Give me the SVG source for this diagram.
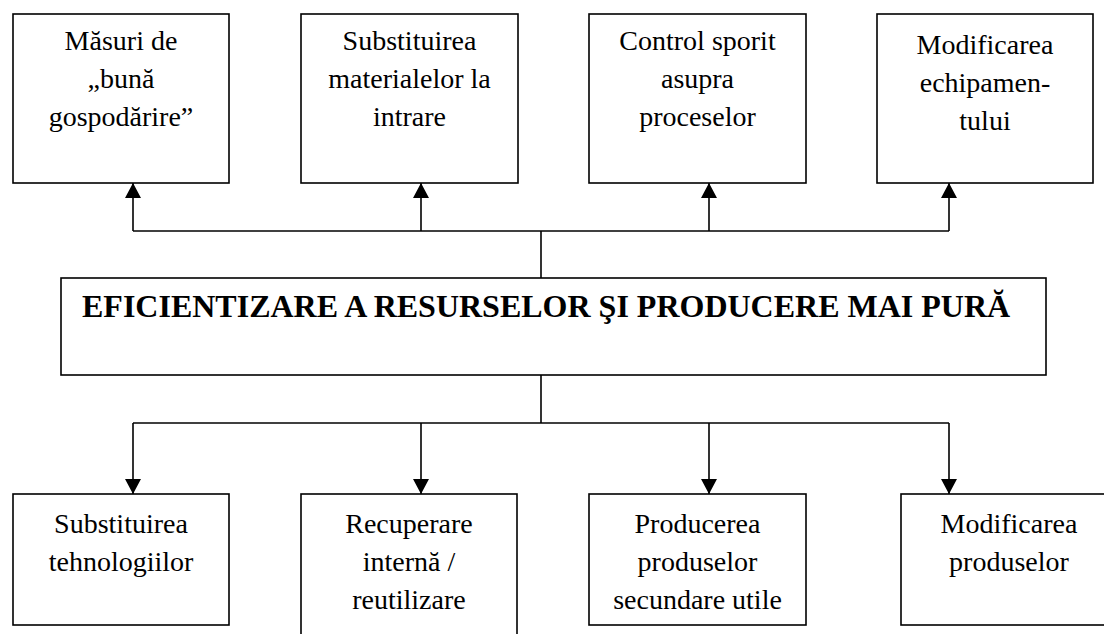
<svg xmlns="http://www.w3.org/2000/svg" width="1104" height="634" viewBox="0 0 1104 634">
  <style>
    .box { fill: #ffffff; stroke: #000000; stroke-width: 1.6; }
    .lbl { font-family: 'Liberation Serif', 'DejaVu Serif', serif; font-size: 28px; fill: #000000; text-anchor: middle; }
    .title { font-family: 'Liberation Serif', 'DejaVu Serif', serif; font-size: 32px; font-weight: bold; fill: #000000; }
    .conn { fill: none; stroke: #000000; stroke-width: 1.6; }
  </style>
  <defs>
    <marker id="ah" viewBox="0 0 15 16" refX="15" refY="8" markerWidth="15" markerHeight="16" markerUnits="userSpaceOnUse" orient="auto">
      <path d="M0,0 L15,8 L0,16 Z" fill="#000000"/>
    </marker>
  </defs>
  <rect x="0" y="0" width="1104" height="634" fill="#ffffff"/>

  <g id="connectors">
    <polyline class="conn" points="133,231 949,231"/>
    <line class="conn" x1="541" y1="278" x2="541" y2="231"/>
    <line class="conn" x1="133" y1="231" x2="133" y2="183" marker-end="url(#ah)"/>
    <line class="conn" x1="421" y1="231" x2="421" y2="183" marker-end="url(#ah)"/>
    <line class="conn" x1="709" y1="231" x2="709" y2="183" marker-end="url(#ah)"/>
    <line class="conn" x1="949" y1="231" x2="949" y2="183" marker-end="url(#ah)"/>
    <line class="conn" x1="541" y1="375" x2="541" y2="423"/>
    <polyline class="conn" points="133,423 949,423"/>
    <line class="conn" x1="133" y1="423" x2="133" y2="494" marker-end="url(#ah)"/>
    <line class="conn" x1="421" y1="423" x2="421" y2="494" marker-end="url(#ah)"/>
    <line class="conn" x1="709" y1="423" x2="709" y2="494" marker-end="url(#ah)"/>
    <line class="conn" x1="949" y1="423" x2="949" y2="494" marker-end="url(#ah)"/>
  </g>

  <g id="masuri">
    <rect class="box" x="13" y="14" width="216" height="169"/>
    <text class="lbl" x="121" y="50">Măsuri de</text>
    <text class="lbl" x="121" y="88">„bună</text>
    <text class="lbl" x="121" y="126">gospodărire”</text>
  </g>
  <g id="substituirea-materialelor">
    <rect class="box" x="301" y="14" width="217" height="169"/>
    <text class="lbl" x="409.5" y="50">Substituirea</text>
    <text class="lbl" x="409.5" y="88">materialelor la</text>
    <text class="lbl" x="409.5" y="126">intrare</text>
  </g>
  <g id="control-sporit">
    <rect class="box" x="589" y="14" width="217" height="169"/>
    <text class="lbl" x="697.5" y="50">Control sporit</text>
    <text class="lbl" x="697.5" y="88">asupra</text>
    <text class="lbl" x="697.5" y="126">proceselor</text>
  </g>
  <g id="modificarea-echipamentului">
    <rect class="box" x="877" y="14" width="216" height="169"/>
    <text class="lbl" x="985" y="54">Modificarea</text>
    <text class="lbl" x="985" y="92">echipamen-</text>
    <text class="lbl" x="985" y="130">tului</text>
  </g>

  <g id="eficientizare">
    <rect class="box" x="61" y="278" width="985" height="97"/>
    <text class="title" x="82" y="317">EFICIENTIZARE A RESURSELOR ŞI PRODUCERE MAI PURĂ</text>
  </g>

  <g id="substituirea-tehnologiilor">
    <rect class="box" x="13" y="494" width="216" height="131"/>
    <text class="lbl" x="121" y="533">Substituirea</text>
    <text class="lbl" x="121" y="571">tehnologiilor</text>
  </g>
  <g id="recuperare">
    <rect class="box" x="301" y="494" width="216" height="160"/>
    <text class="lbl" x="409" y="533">Recuperare</text>
    <text class="lbl" x="409" y="571">internă /</text>
    <text class="lbl" x="409" y="609">reutilizare</text>
  </g>
  <g id="producerea">
    <rect class="box" x="589" y="494" width="217" height="131"/>
    <text class="lbl" x="697.5" y="533">Producerea</text>
    <text class="lbl" x="697.5" y="571">produselor</text>
    <text class="lbl" x="697.5" y="609">secundare utile</text>
  </g>
  <g id="modificarea-produselor">
    <rect class="box" x="901" y="494" width="216" height="131"/>
    <text class="lbl" x="1009" y="533">Modificarea</text>
    <text class="lbl" x="1009" y="571">produselor</text>
  </g>
</svg>
